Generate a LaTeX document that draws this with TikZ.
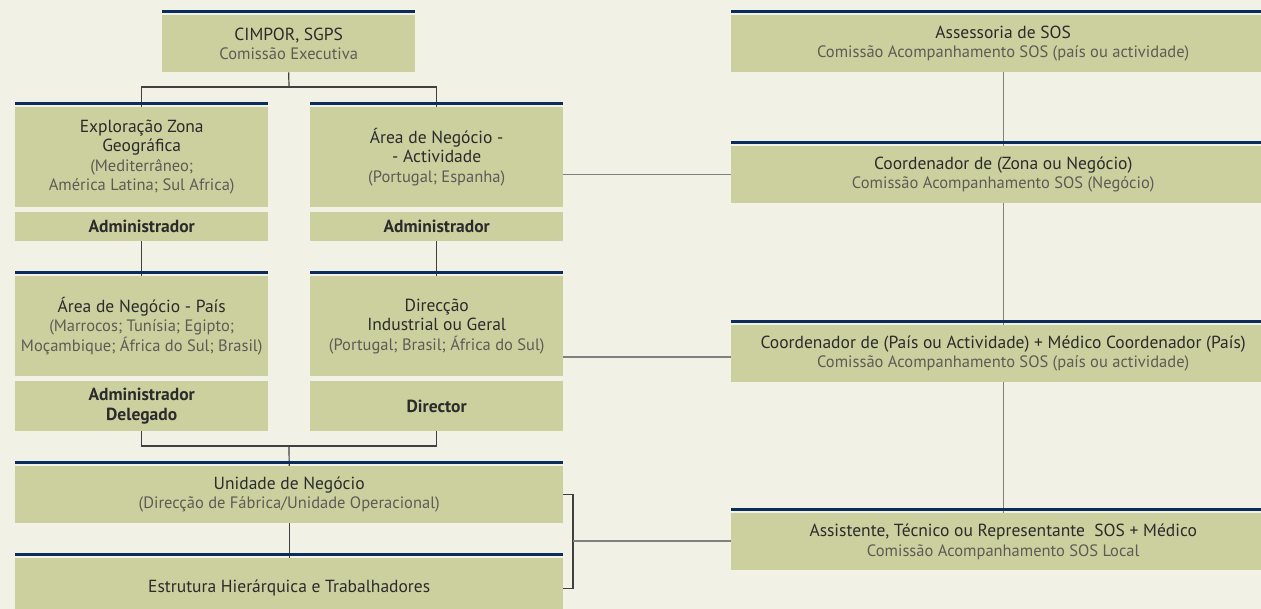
\documentclass[tikz,border=0pt]{standalone}
\usepackage{fontspec}
\setmainfont{PT Sans}
\usetikzlibrary{backgrounds}
\definecolor{fond}{HTML}{F1F1E6}
\definecolor{vert}{HTML}{CCD09F}
\definecolor{marine}{HTML}{0C2D5C}
\definecolor{texte}{HTML}{2B2B2B}
\definecolor{grisclair}{HTML}{5C5C55}
\definecolor{liensombre}{HTML}{404040}
\definecolor{lienclair}{HTML}{808080}
\newcommand{\sous}[1]{{\color{grisclair}\fontsize{16.5}{19.5}\selectfont #1}}
\tikzset{
  boite/.style={fill=vert, inner sep=0pt, align=center, anchor=north west,
    text=texte, font=\fontsize{17.5}{19.5}\selectfont},
  colonne/.style={minimum width=253pt},
  large/.style={minimum width=548pt},
  droite/.style={minimum width=544pt},
  chef/.style={font=\bfseries\fontsize{17.5}{20}\selectfont},
  barre/.style={draw=marine, line width=3pt},
  lien/.style={draw=liensombre, line width=1.2pt},
  lienSOS/.style={draw=lienclair, line width=1.2pt}
}
\begin{document}
\begin{tikzpicture}[x=1pt,y=-1pt]
\useasboundingbox (0,0) rectangle (1261,609);
\clip (0,0) rectangle (1261,609);
%    Colonnes de gauche :
\node[boite, minimum width=253pt, minimum height=57pt] (cimpor) at (162,15)
  {CIMPOR, SGPS\\\sous{Comissão Executiva}};
\node[boite, colonne, minimum height=100pt] (zona) at (15,107)
  {Exploração Zona\\Geográfica\\\sous{(Mediterrâneo;}\\\sous{América Latina; Sul Africa)}};
\node[boite, colonne, minimum height=29pt, chef] (zonaadm) at (15,212) {Administrador};
\node[boite, colonne, minimum height=100pt] (activ) at (310,107)
  {Área de Negócio -\\- Actividade\\\sous{(Portugal; Espanha)}};
\node[boite, colonne, minimum height=29pt, chef] (activadm) at (310,212) {Administrador};
\node[boite, colonne, minimum height=100pt] (pais) at (15,276)
  {Área de Negócio - País\\\sous{(Marrocos; Tunísia; Egipto;}\\\sous{Moçambique; África do Sul; Brasil)}};
\node[boite, colonne, minimum height=50pt, chef] (paisadm) at (15,381) {Administrador\\Delegado};
\node[boite, colonne, minimum height=100pt] (direccao) at (310,276)
  {Direcção\\Industrial ou Geral\\\sous{(Portugal; Brasil; África do Sul)}};
\node[boite, colonne, minimum height=50pt, chef] (director) at (310,381) {Director};
\node[boite, large, minimum height=57pt] (unidade) at (15,466)
  {Unidade de Negócio\\\sous{(Direcção de Fábrica/Unidade Operacional)}};
\node[boite, large, minimum height=60pt] (estrutura) at (15,558)
  {Estrutura Hierárquica e Trabalhadores};
%    Colonne SOS :
\node[boite, droite, minimum height=57pt] (assessoria) at (731,15)
  {Assessoria de SOS\\\sous{Comissão Acompanhamento SOS (país ou actividade)}};
\node[boite, droite, minimum height=57pt] (coordzona) at (731,146)
  {Coordenador de (Zona ou Negócio)\\\sous{Comissão Acompanhamento SOS (Negócio)}};
\node[boite, droite, minimum height=57pt] (coordpais) at (731,325)
  {Coordenador de (País ou Actividade) + Médico Coordenador (País)\\\sous{Comissão Acompanhamento SOS (país ou actividade)}};
\node[boite, droite, minimum height=57pt] (assistente) at (731,513)
  {Assistente, Técnico ou Representante\ \ SOS + Médico\\\sous{Comissão Acompanhamento SOS Local}};
%    Bandeaux bleus :
\draw[barre] ([yshift=3.5pt]cimpor.north west) -- ([yshift=3.5pt]cimpor.north east);
\draw[barre] ([yshift=3.5pt]zona.north west) -- ([yshift=3.5pt]zona.north east);
\draw[barre] ([yshift=3.5pt]activ.north west) -- ([yshift=3.5pt]activ.north east);
\draw[barre] ([yshift=3.5pt]pais.north west) -- ([yshift=3.5pt]pais.north east);
\draw[barre] ([yshift=3.5pt]direccao.north west) -- ([yshift=3.5pt]direccao.north east);
\draw[barre] ([yshift=3.5pt]unidade.north west) -- ([yshift=3.5pt]unidade.north east);
\draw[barre] ([yshift=3.5pt]estrutura.north west) -- ([yshift=3.5pt]estrutura.north east);
\draw[barre] ([yshift=3.5pt]assessoria.north west) -- ([yshift=3.5pt]assessoria.north east);
\draw[barre] ([yshift=3.5pt]coordzona.north west) -- ([yshift=3.5pt]coordzona.north east);
\draw[barre] ([yshift=3.5pt]coordpais.north west) -- ([yshift=3.5pt]coordpais.north east);
\draw[barre] ([yshift=3.5pt]assistente.north west) -- ([yshift=3.5pt]assistente.north east);
\begin{scope}[on background layer]
\fill[fond] (0,0) rectangle (1261,609);
%    Liaisons hiérarchiques :
\coordinate (haut) at (289,87);
\coordinate (bas) at (289,446);
\coordinate (accolade) at (573,541);
\draw[lien] (cimpor.south) -- (haut);
\draw[lien] (zona.north) |- (haut) -| (activ.north);
\draw[lien] (zonaadm.south) -- (pais.north);
\draw[lien] (activadm.south) -- (direccao.north);
\draw[lien] (paisadm.south) |- (bas) -| (director.south);
\draw[lien] (bas) -- (unidade.north);
\draw[lien] (unidade.south) -- (estrutura.north);
\draw[lien] (unidade.east) -| (accolade) |- (estrutura.east);
%    Liaisons SOS :
\draw[lienSOS] (assessoria.south) -- (coordzona.north);
\draw[lienSOS] (coordzona.south) -- (coordpais.north);
\draw[lienSOS] (coordpais.south) -- (assistente.north);
\draw[lienSOS] (activ.east |- coordzona.west) -- (coordzona.west);
\draw[lienSOS] (direccao.east |- 0,357) -- (coordpais.west |- 0,357);
\draw[lienSOS] (accolade) -- (accolade -| assistente.west);
\end{scope}
\end{tikzpicture}
\end{document}
